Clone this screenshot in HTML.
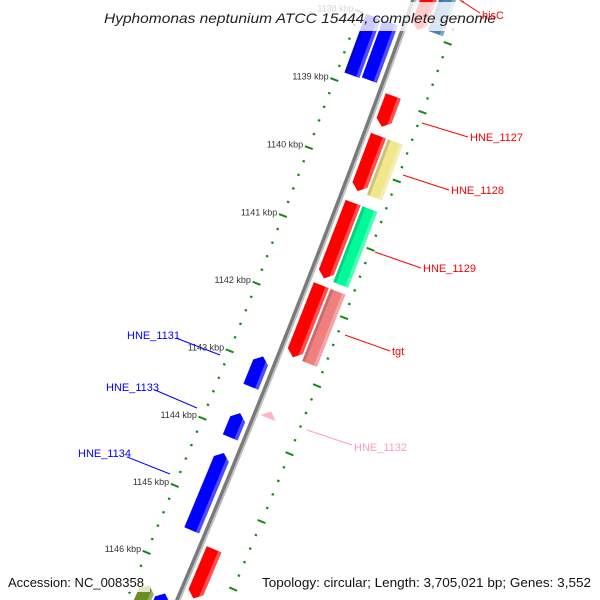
<!DOCTYPE html>
<html><head><meta charset="utf-8"><style>
html,body{margin:0;padding:0;background:#fff;width:600px;height:600px;overflow:hidden;}
svg{display:block;overflow:hidden;}
</style></head><body>
<svg id="map" width="600" height="600" viewBox="0 0 600 600" xmlns="http://www.w3.org/2000/svg">
<rect width="600" height="600" fill="#fff"/>
<g id="rings"></g>
<g id="bb"></g>
<g id="genes"></g>
<rect x="100" y="2" width="396" height="29" fill="#fff" opacity="0.8"/>
<text x="104" y="23" font-family="Liberation Sans, sans-serif" font-style="italic" font-size="14" fill="#222" textLength="392" lengthAdjust="spacingAndGlyphs">Hyphomonas neptunium ATCC 15444, complete genome</text>
<g id="labels" font-family="Liberation Sans, sans-serif" font-size="11">
  <line x1="460" y1="0" x2="480" y2="13" stroke="#ff0000"/>
  <text x="482" y="19" fill="#ff0000">hisC</text>
  <line x1="422" y1="123" x2="468" y2="137" stroke="#ff0000"/>
  <text x="470" y="141" fill="#ff0000">HNE_1127</text>
  <line x1="403" y1="175" x2="449" y2="190" stroke="#ff0000"/>
  <text x="451" y="194" fill="#ff0000">HNE_1128</text>
  <line x1="375" y1="252" x2="421" y2="268" stroke="#ff0000"/>
  <text x="423" y="272" fill="#ff0000">HNE_1129</text>
  <line x1="345" y1="335" x2="390" y2="351" stroke="#ff0000"/>
  <text x="392" y="355" fill="#ff0000">tgt</text>
  <line x1="307" y1="430" x2="352" y2="445" stroke="#ff99cc"/>
  <text x="354" y="451" fill="#ff99cc">HNE_1132</text>
  <line x1="176" y1="338" x2="220" y2="355" stroke="#0000ff"/>
  <text x="127" y="339" fill="#0000ff">HNE_1131</text>
  <line x1="155" y1="390" x2="197" y2="408" stroke="#0000ff"/>
  <text x="106" y="391" fill="#0000ff">HNE_1133</text>
  <line x1="127" y1="457" x2="170" y2="474" stroke="#0000ff"/>
  <text x="78" y="457" fill="#0000ff">HNE_1134</text>
</g>
<rect x="4" y="572" width="146" height="20" fill="#fff" opacity="0.78"/>
<text x="8" y="587" font-family="Liberation Sans, sans-serif" font-size="13" fill="#111" textLength="136" lengthAdjust="spacingAndGlyphs">Accession: NC_008358</text>
<rect x="258" y="572" width="338" height="20" fill="#fff" opacity="0.78"/>
<text x="262" y="587" font-family="Liberation Sans, sans-serif" font-size="13" fill="#111" textLength="329" lengthAdjust="spacingAndGlyphs">Topology: circular; Length: 3,705,021 bp; Genes: 3,552</text>
</svg>
<script>
// Gene data (kbp)
const geneNames  = ['left-outer-top','left-inner-top','hisC','hisC-partner','HNE_1127','HNE_1128','HNE_1128-cog','HNE_1129','HNE_1129-cog','tgt','tgt-cog','HNE_1131','HNE_1132','HNE_1133','HNE_1134','bottom-red','bottom-blue','bottom-olive'];
const geneStarts = [1138.0,1138.0,1137.2,1137.2,1138.93,1139.51,1139.51,1140.49,1140.49,1141.70,1141.70,1142.90,1143.56,1143.74,1144.33,1145.60,1146.42,1146.40];
const geneEnds   = [1138.86,1138.84,1137.97,1137.93,1139.38,1140.32,1140.32,1141.60,1141.60,1142.76,1142.76,1143.35,1143.66,1144.10,1145.48,1146.33,1147.3,1147.3];
const geneStrand = [0,0,1,0,1,1,0,1,0,1,0,-1,-1,-1,-1,1,-1,-1];
const geneTrack  = ['LO','LI','RI','RO','RI','RI','RO','RI','RO','RI','RO','LI','RI','LI','LI','RI','LI','LO'];
const geneColor  = ['#0000ff','#0000ff','#ff0000','#4682b4','#ff0000','#ff0000','#f0e68c','#ff0000','#00fa9a','#ff0000','#f08080','#0000ff','#ffb6c1','#0000ff','#0000ff','#ff0000','#0000ff','#6b8e23'];
const tickStart = 1137, tickEnd = 1147.6, minorStep = 0.2;

const CX=-10095, CY=-3787, R=11170, PHI0=0.3747, K0=1142.01, DPHI=0.006535;
function pos(k,u){const p=PHI0+(k-K0)*DPHI, r=R+u; return [CX+r*Math.cos(p), CY+r*Math.sin(p)];}
const TR={RI:[6,22],RO:[24,40],LI:[-22,-6],LO:[-40,-24]};
const NS='http://www.w3.org/2000/svg';
function mk(tag,attrs,parent){const e=document.createElementNS(NS,tag);for(const a in attrs)e.setAttribute(a,attrs[a]);parent.appendChild(e);return e;}
const pts=a=>a.map(p=>p[0].toFixed(2)+','+p[1].toFixed(2)).join(' ');

const rings=document.getElementById('rings');
[-47,47].forEach(function(u){
  const n=Math.round((tickEnd-tickStart)/minorStep);
  for(let i=0;i<=n;i++){
    const k=tickStart+i*minorStep, major=(i%5===0);
    const hl=major?4.2:1.2;
    const a=pos(k,u-hl), b=pos(k,u+hl);
    const ln=mk('line',{x1:a[0],y1:a[1],x2:b[0],y2:b[1],stroke:'#138a13','stroke-width':major?2:2.2},rings);
    
    
    if(major && u<0){
      const t=pos(k,-53);
      const tx=mk('text',{x:t[0].toFixed(1),y:(t[1]+2).toFixed(1),'text-anchor':'end','font-family':'Liberation Sans, sans-serif','font-size':'9',fill:'#333'},rings);
      tx.textContent=Math.round(k)+' kbp';
      
      
    }
  }
});

const bb=document.getElementById('bb');
function arc(u){const a=[];for(let k=1136;k<=1147.6;k+=0.25)a.push(pos(k,u));return pts(a);}
let l1=mk('polyline',{points:arc(-0.5),fill:'none',stroke:'#7a7a7a','stroke-width':3.5},bb);


let l2=mk('polyline',{points:arc(2.2),fill:'none',stroke:'#bdbdbd','stroke-width':1.6},bb);



const gg=document.getElementById('genes');
for(let i=0;i<geneNames.length;i++){
  const s=geneStarts[i], e=geneEnds[i], [u0,u1]=TR[geneTrack[i]], um=(u0+u1)/2, st=geneStrand[i];
  const h=Math.min(0.09,(e-s));
  let shape;
  if(st===1) shape=[pos(s,u0),pos(e-h,u0),pos(e,um),pos(e-h,u1),pos(s,u1)];
  else if(st===-1) shape=[pos(s,um),pos(s+h,u0),pos(e,u0),pos(e,u1),pos(s+h,u1)];
  else shape=[pos(s,u0),pos(e,u0),pos(e,u1),pos(s,u1)];
  const g=mk('g',{},gg);
  
  
  mk('polygon',{points:pts(shape),fill:geneColor[i]},g);
  const su=u1-3.5;
  let stripe;
  if(st===1) stripe=[pos(s,su),pos(e-h*(u1-su)/(u1-um),su),pos(e-h,u1),pos(s,u1)];
  else if(st===-1) stripe=[pos(s+h*(u1-su)/(u1-um),su),pos(e,su),pos(e,u1),pos(s+h,u1)];
  else stripe=[pos(s,su),pos(e,su),pos(e,u1),pos(s,u1)];
  mk('polygon',{points:pts(stripe),fill:'#fff',opacity:0.3},g);
  if(st===0 && geneTrack[i][1]==='O'){
    const dk=[pos(s,u0),pos(e,u0),pos(e,u0+3),pos(s,u0+3)];
    mk('polygon',{points:pts(dk),fill:'#000',opacity:0.15},g);
  }
}
</script>
</body></html>
